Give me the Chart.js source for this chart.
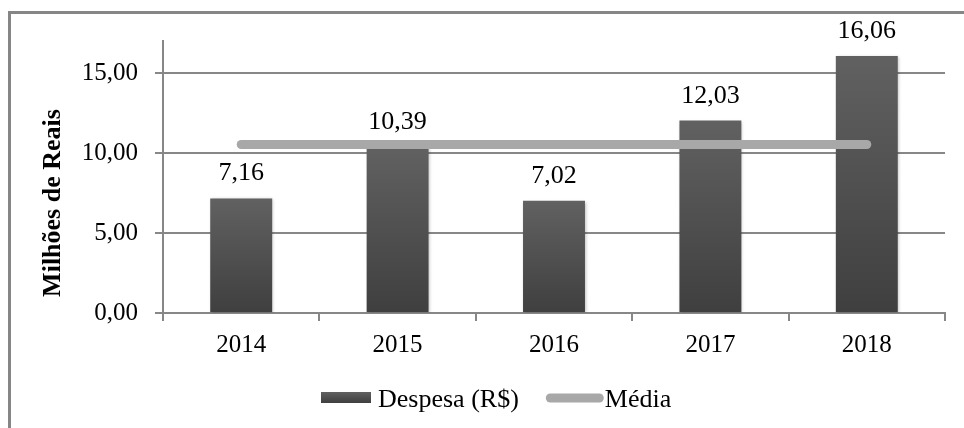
<!DOCTYPE html>
<html><head><meta charset="utf-8">
<script src="https://cdn.jsdelivr.net/npm/chart.js@4"></script>
<style>
html,body{margin:0;padding:0;background:#fff;overflow:hidden;}
#wrap{position:relative;width:964px;height:428px;overflow:hidden;}
#frame{position:absolute;left:8px;top:11px;width:1000px;height:500px;border-left:3px solid #868686;border-top:3px solid #868686;}
canvas{position:absolute;left:0;top:0;}
</style></head><body>
<div id="wrap"><div id="frame"></div><canvas id="c" width="964" height="428"></canvas></div>
<script>
const categories = ['2014', '2015', '2016', '2017', '2018'];
const despesa = [7.16, 10.39, 7.02, 12.03, 16.06];
const media = [10.53, 10.53, 10.53, 10.53, 10.53];
const yTicks = [0, 5, 10, 15];
const yMax = 17;
const seriesNames = ['Despesa (R$)', 'Média'];
const yTitle = 'Milhões de Reais';

const FONT = "'Liberation Serif','Times New Roman',serif";
const GRID = '#878787';
const BAR_TOP = '#616161';
const BAR_BOTTOM = '#3f3f3f';
const LINE_COLOR = '#a8a8a8';
const fmt = v => Number(v).toFixed(2).replace('.', ',');

function barGradient(chart, top, base) {
  const g = chart.ctx.createLinearGradient(0, top, 0, base);
  g.addColorStop(0, BAR_TOP);
  g.addColorStop(1, BAR_BOTTOM);
  return g;
}

const shadowPlugin = {
  id: 'barShadow',
  beforeDatasetDraw(chart, args) {
    if (args.index !== 0) return;
    const c = chart.ctx;
    c.save();
    c.shadowColor = 'rgba(0,0,0,0.25)';
    c.shadowBlur = 3;
    c.shadowOffsetX = 1;
    c.shadowOffsetY = 1;
  },
  afterDatasetDraw(chart, args) {
    if (args.index !== 0) return;
    chart.ctx.restore();
  }
};

const labelPlugin = {
  id: 'valueLabels',
  afterDatasetsDraw(chart) {
    const c = chart.ctx;
    const meta = chart.getDatasetMeta(0);
    c.save();
    c.font = '26px ' + FONT;
    c.fillStyle = '#000';
    c.textAlign = 'center';
    c.textBaseline = 'alphabetic';
    meta.data.forEach((el, i) => {
      c.fillText(fmt(despesa[i]), el.x, el.y - 18);
    });
    c.restore();
  }
};

const titlePlugin = {
  id: 'yTitle',
  afterDraw(chart) {
    const c = chart.ctx;
    c.save();
    c.translate(60, 203);
    c.rotate(-Math.PI / 2);
    c.font = 'bold 26px ' + FONT;
    c.fillStyle = '#000';
    c.textAlign = 'center';
    c.textBaseline = 'alphabetic';
    c.fillText(yTitle, 0, 0);
    c.restore();
  }
};

const legendPlugin = {
  id: 'customLegend',
  afterDraw(chart) {
    const c = chart.ctx;
    c.save();
    const bx = 321, by = 392, bw = 50, bh = 11;
    c.fillStyle = barGradient(chart, by, by + bh);
    c.fillRect(bx, by, bw, bh);
    c.font = '26px ' + FONT;
    c.fillStyle = '#000';
    c.textAlign = 'left';
    c.textBaseline = 'alphabetic';
    const tx = bx + bw + 7;
    c.fillText(seriesNames[0], tx, 407);
    const w = c.measureText(seriesNames[0]).width;
    const lx = tx + w + 27;
    c.strokeStyle = LINE_COLOR;
    c.lineWidth = 9;
    c.lineCap = 'round';
    c.beginPath();
    c.moveTo(lx + 4.5, 398);
    c.lineTo(lx + 58 - 4.5, 398);
    c.stroke();
    c.fillText(seriesNames[1], lx + 59, 407);
    c.restore();
  }
};

new Chart(document.getElementById('c'), {
  type: 'bar',
  data: {
    labels: categories,
    datasets: [
      {
        type: 'bar',
        label: seriesNames[0],
        data: despesa,
        order: 1,
        barPercentage: 0.396,
        categoryPercentage: 1,
        borderWidth: 0,
        backgroundColor: (ctx) => {
          const chart = ctx.chart;
          if (!chart.chartArea || ctx.type !== 'data' || !chart.scales.y) return '#505050';
          const ys = chart.scales.y;
          return barGradient(chart, ys.getPixelForValue(ctx.raw), ys.getPixelForValue(0));
        }
      },
      {
        type: 'line',
        label: seriesNames[1],
        data: media,
        order: 0,
        borderColor: LINE_COLOR,
        backgroundColor: LINE_COLOR,
        borderWidth: 9,
        borderCapStyle: 'round',
        pointRadius: 0,
        fill: false,
        tension: 0
      }
    ]
  },
  options: {
    responsive: false,
    animation: false,
    devicePixelRatio: 1,
    layout: { padding: { left: 0, right: 19, top: 41, bottom: 0 } },
    plugins: { legend: { display: false }, tooltip: { enabled: false } },
    scales: {
      x: {
        offset: true,
        grid: { offset: true, drawOnChartArea: false, drawTicks: true, tickLength: 8, color: GRID, lineWidth: 2 },
        border: { display: true, color: GRID, width: 2 },
        ticks: { font: { family: FONT, size: 25 }, color: '#000', padding: 9, maxRotation: 0 },
        afterFit(s) { s.height = 115; }
      },
      y: {
        min: 0,
        max: yMax,
        grid: { color: GRID, lineWidth: 2, tickLength: 8, drawTicks: true },
        border: { display: true, color: GRID, width: 2 },
        ticks: {
          stepSize: 5,
          includeBounds: false,
          font: { family: FONT, size: 25 },
          color: '#000',
          padding: 17,
          callback: v => fmt(v)
        },
        afterBuildTicks(s) { s.ticks = yTicks.map(v => ({ value: v })); },
        afterFit(s) { s.width = 163; }
      }
    }
  },
  plugins: [shadowPlugin, labelPlugin, titlePlugin, legendPlugin]
});
</script>
</body></html>
